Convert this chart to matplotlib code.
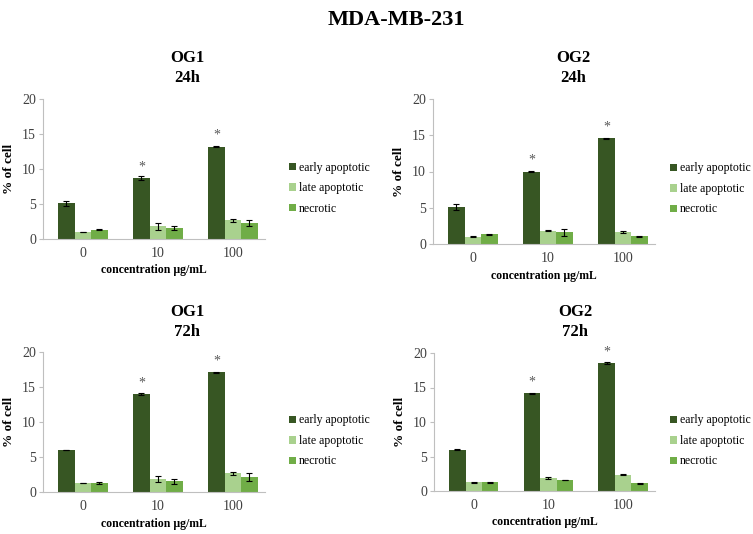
import matplotlib
matplotlib.use('Agg')
import matplotlib.pyplot as plt
import numpy as np

plt.rcParams['font.family'] = ['Liberation Serif', 'DejaVu Serif']

# Data
concentrations = ['0', '10', '100']
series_names = ['early apoptotic', 'late apoptotic', 'necrotic']
colors = ['#375623', '#a9d18e', '#70ad47']

og1_24h_early = [5.1, 8.7, 13.2]
og1_24h_late = [1.0, 1.8, 2.7]
og1_24h_necrotic = [1.35, 1.55, 2.25]
og1_24h_early_err = [0.35, 0.3, 0.1]
og1_24h_late_err = [0.05, 0.45, 0.2]
og1_24h_necrotic_err = [0.05, 0.25, 0.4]

og2_24h_early = [5.1, 10.0, 14.6]
og2_24h_late = [1.0, 1.85, 1.65]
og2_24h_necrotic = [1.35, 1.6, 1.05]
og2_24h_early_err = [0.35, 0.05, 0.05]
og2_24h_late_err = [0.05, 0.05, 0.1]
og2_24h_necrotic_err = [0.05, 0.45, 0.1]

og1_72h_early = [6.0, 14.0, 17.1]
og1_72h_late = [1.3, 1.85, 2.65]
og1_72h_necrotic = [1.3, 1.55, 2.1]
og1_72h_early_err = [0.05, 0.2, 0.05]
og1_72h_late_err = [0.05, 0.4, 0.15]
og1_72h_necrotic_err = [0.1, 0.35, 0.55]

og2_72h_early = [6.0, 14.15, 18.6]
og2_72h_late = [1.25, 1.9, 2.35]
og2_72h_necrotic = [1.25, 1.6, 1.1]
og2_72h_early_err = [0.05, 0.1, 0.15]
og2_72h_late_err = [0.05, 0.1, 0.05]
og2_72h_necrotic_err = [0.1, 0.05, 0.05]

# asterisks over early apoptotic bars (10 and 100)
star_groups = [1, 2]

panels = [
    ('OG1\n24h', [og1_24h_early, og1_24h_late, og1_24h_necrotic],
     [og1_24h_early_err, og1_24h_late_err, og1_24h_necrotic_err]),
    ('OG2\n24h', [og2_24h_early, og2_24h_late, og2_24h_necrotic],
     [og2_24h_early_err, og2_24h_late_err, og2_24h_necrotic_err]),
    ('OG1\n72h', [og1_72h_early, og1_72h_late, og1_72h_necrotic],
     [og1_72h_early_err, og1_72h_late_err, og1_72h_necrotic_err]),
    ('OG2\n72h', [og2_72h_early, og2_72h_late, og2_72h_necrotic],
     [og2_72h_early_err, og2_72h_late_err, og2_72h_necrotic_err]),
]

W, H = 753, 534
fig = plt.figure(figsize=(W / 100, H / 100), dpi=100)

# axes boxes in pixels: left, right, top, bottom
boxes = [(43, 265, 99, 239), (433, 655, 99, 244),
         (43, 265, 352, 492), (434, 655, 353, 491)]
title_pos = [(187, 68), (573, 68), (187, 322), (575, 322)]
legend_pos = [(289, 188), (670, 189), (289, 441), (670, 441)]

fig.text(396 / W, 1 - 20 / H, 'MDA-MB-231', ha='center', va='center',
         fontsize=16, fontweight='bold')

grey = '#bfbfbf'
bw = 0.22
x = np.arange(len(concentrations))

for i, (title, values, errs) in enumerate(panels):
    l, r, t, b = boxes[i]
    ax = fig.add_axes([l / W, 1 - b / H, (r - l) / W, (b - t) / H])
    bars = []
    for j in range(3):
        bc = ax.bar(x + (j - 1) * bw, values[j], bw, color=colors[j],
                    yerr=errs[j], capsize=2.5,
                    error_kw=dict(ecolor='black', elinewidth=0.8, capthick=0.8),
                    label=series_names[j])
        bars.append(bc)
    for g in star_groups:
        ax.text(x[g] - bw, values[0][g] + 1.6, '*', ha='center', va='center',
                fontsize=10, color='#595959')
    ax.set_xlim(-0.533, 2.427)
    ax.set_ylim(0, 20)
    ax.set_yticks([0, 5, 10, 15, 20])
    ax.set_xticks(x)
    ax.set_xticklabels(concentrations)
    for s in ['top', 'right']:
        ax.spines[s].set_visible(False)
    ax.spines['left'].set_color(grey)
    ax.spines['bottom'].set_color(grey)
    ax.tick_params(axis='y', colors=grey, labelcolor='#404040', labelsize=10,
                   length=3, pad=2)
    ax.tick_params(axis='x', length=0, labelcolor='#404040', labelsize=10, pad=6)
    ax.set_ylabel('% of cell', fontsize=9.5, fontweight='bold', labelpad=5)
    ax.set_xlabel('concentration µg/mL', fontsize=8.5, fontweight='bold', labelpad=3)
    tx, ty = title_pos[i]
    fig.text(tx / W, 1 - ty / H, title, ha='center', va='center',
             fontsize=12, fontweight='bold', linespacing=1.35)
    lx, ly = legend_pos[i]
    fig.legend(handles=bars, labels=series_names, loc='center left',
               bbox_to_anchor=(lx / W, 1 - ly / H), frameon=False,
               fontsize=8.5, handlelength=0.6, handleheight=0.6,
               handletextpad=0.25, labelspacing=0.72, borderaxespad=0,
               borderpad=0)

plt.savefig('out.png', dpi=100)
